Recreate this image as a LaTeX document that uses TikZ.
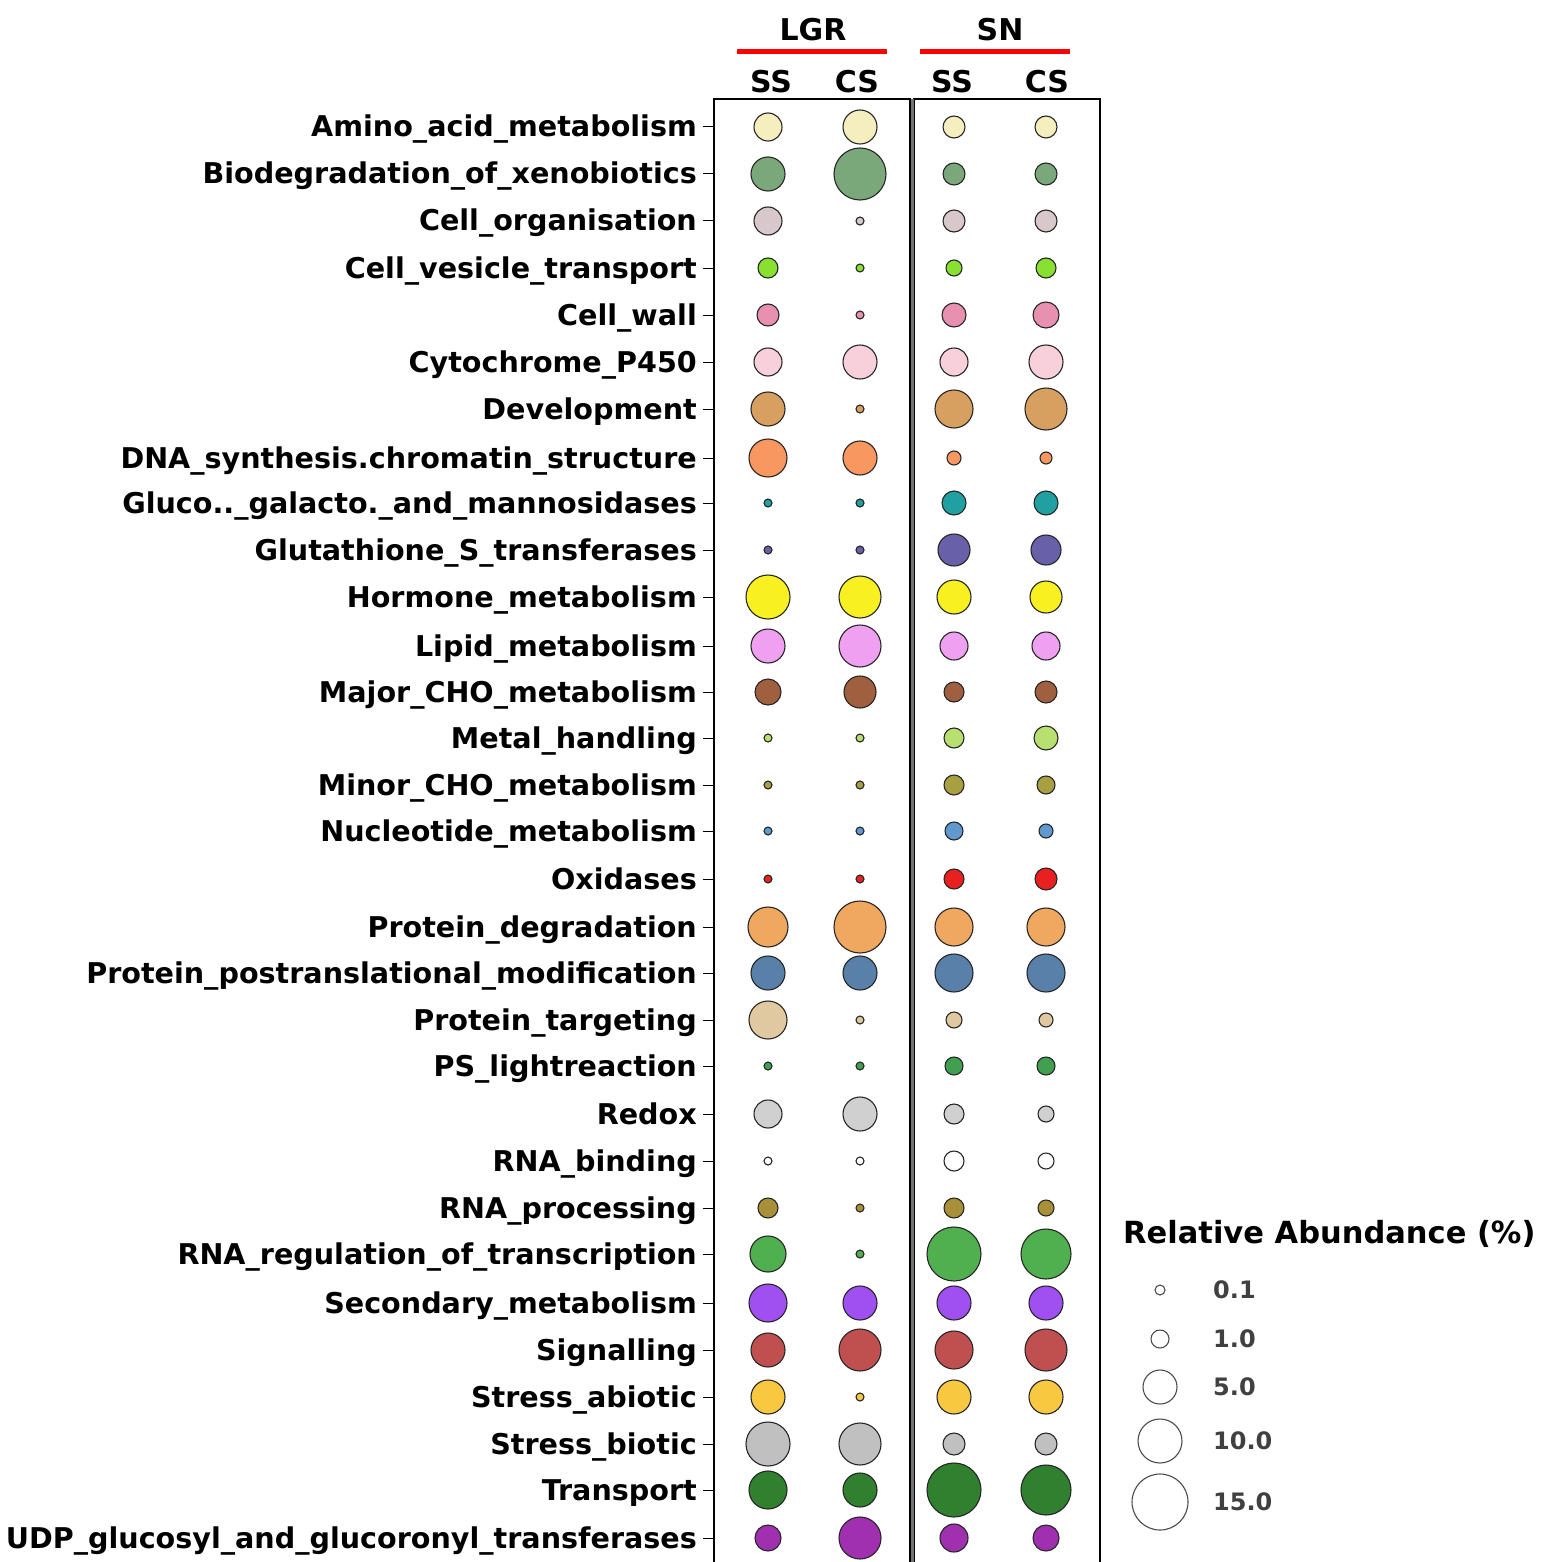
\documentclass[tikz,border=0pt]{standalone}
\usepackage{fontspec}
\setmainfont{DejaVu Sans}
\begin{document}
\begin{tikzpicture}[x=1pt,y=-1pt,
  lab/.style={anchor=base east,font=\bfseries\fontsize{28.6}{28.6}\selectfont,inner sep=0},
  bub/.style={circle,draw=black!85,line width=1.1pt,inner sep=0},
  hdr/.style={font=\bfseries\fontsize{30}{30}\selectfont,inner sep=0}]
\useasboundingbox (0,0) rectangle (1547,1562);
% panels
\draw[line width=2.5pt] (714,1570) -- (714,99) -- (910,99) -- (910,1570);
\draw[line width=2.5pt] (914,1570) -- (914,99) -- (1100,99) -- (1100,1570);
\draw[line width=3pt,black!55] (912,99) -- (912,1570);
% header
\node[hdr] (lgr) at (813,30) {LGR};
\node[hdr] (sn) at (1000,30) {SN};
\draw[red,line width=5pt] (737,52) -- (887,52);
\draw[red,line width=5pt] (920,52) -- (1070,52);
\node[hdr] (h1) at (771,82) {SS};
\node[hdr] (h2) at (857,82) {CS};
\node[hdr] (h3) at (952,82) {SS};
\node[hdr] (h4) at (1047,82) {CS};
\foreach \i/\y/\lab/\c/\ra/\rb/\rc/\rd in {
1/127/Amino\_acid\_metabolism/F5EFC0/14/17/11/11,
2/174/Biodegradation\_of\_xenobiotics/7BA87A/17/26/11/11,
3/221/Cell\_organisation/D8C8CC/14/4/11/11,
4/268/Cell\_vesicle\_transport/88E030/10/4/8/10,
5/315/Cell\_wall/E890B0/11/4/12/13,
6/362/Cytochrome\_P450/F8D0DC/14/17/14/17,
7/409/Development/D8A060/17/4/19/21,
8/458/DNA\_synthesis.chromatin\_structure/F89860/19/17/7/6,
9/503/Gluco..\_galacto.\_and\_mannosidases/20A0A0/4/4/12/12,
10/550/Glutathione\_S\_transferases/6860A8/4/4/16/15,
11/597/Hormone\_metabolism/F8F020/22/21/17/16,
12/646/Lipid\_metabolism/F0A0F0/17/21/14/14,
13/692/Major\_CHO\_metabolism/A06040/13/16/10/11,
14/738/Metal\_handling/B8E070/4/4/10/12,
15/785/Minor\_CHO\_metabolism/A8A040/4/4/10/9,
16/831/Nucleotide\_metabolism/6098D0/4/4/9/7,
17/879/Oxidases/E82020/4/4/10/11,
18/927/Protein\_degradation/F0A860/20/26/19/19,
19/973/Protein\_postranslational\_modification/5880A8/17/17/19/19,
20/1020/Protein\_targeting/E0C8A0/19/4/8/7,
21/1066/PS\_lightreaction/40A050/4/4/9/9,
22/1114/Redox/D0D0D0/14/17/10/8,
23/1161/RNA\_binding/FFFFFF/4/4/10/8,
24/1208/RNA\_processing/A89038/10/4/10/8,
25/1254/RNA\_regulation\_of\_transcription/50B050/18/4/27/25,
26/1303/Secondary\_metabolism/A050F0/19/17/17/17,
27/1350/Signalling/C05050/17/21/19/21,
28/1397/Stress\_abiotic/F8C840/17/4/17/17,
29/1444/Stress\_biotic/C0C0C0/22/21/11/11,
30/1490/Transport/308030/19/17/27/25,
31/1538/UDP\_glucosyl\_and\_glucoronyl\_transferases/A030B0/13/21/14/13}{
  \definecolor{cur}{HTML}{\c}
  \node[lab] (l\i) at (697,\y+10) {\lab};
  \draw[line width=1pt] (703,\y) -- (714,\y);
  \node[bub,fill=cur,minimum size=2*\ra] (a\i) at (768,\y) {};
  \node[bub,fill=cur,minimum size=2*\rb] (b\i) at (860,\y) {};
  \node[bub,fill=cur,minimum size=2*\rc] (c\i) at (954,\y) {};
  \node[bub,fill=cur,minimum size=2*\rd] (d\i) at (1046,\y) {};
}
% legend
\node[anchor=west,inner sep=0,font=\bfseries\fontsize{30.5}{30.5}\selectfont] (lt) at (1123,1234) {Relative Abundance (\%)};
\foreach \j/\y/\r/\t in {1/1290/5/0.1,2/1339/9/1.0,3/1387/17/5.0,4/1441/22/10.0,5/1502/28/15.0}{
  \node[bub,draw=black!70,fill=white,minimum size=2*\r] (k\j) at (1160,\y) {};
  \node[anchor=west,inner sep=0,font=\bfseries\fontsize{24}{24}\selectfont,text=black!75] (kt\j) at (1213,\y) {\t};
}
\end{tikzpicture}
\end{document}
